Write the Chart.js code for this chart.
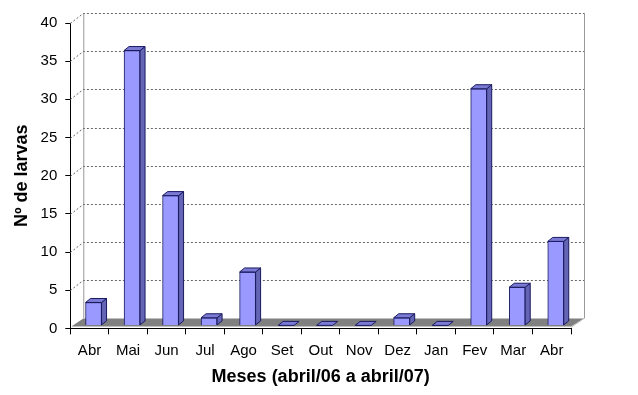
<!DOCTYPE html>
<html>
<head>
<meta charset="utf-8">
<script src="https://cdn.jsdelivr.net/npm/chart.js@4.4.0/dist/chart.umd.min.js"></script>
<style>
  html, body { margin: 0; padding: 0; background: #fff; }
  #wrap { width: 638px; height: 395px; }
</style>
</head>
<body>
<div id="wrap"><canvas id="larvasChart" width="638" height="395"></canvas></div>
<script>
const months = ['Abr', 'Mai', 'Jun', 'Jul', 'Ago', 'Set', 'Out', 'Nov', 'Dez', 'Jan', 'Fev', 'Mar', 'Abr'];
const larvas = [3, 36, 17, 1, 7, 0, 0, 0, 1, 0, 31, 5, 11];
const yTicks = [0, 5, 10, 15, 20, 25, 30, 35, 40];

const FONT = "'Liberation Sans', Arial, sans-serif";
const WALL_DX = 13, WALL_DY = -10;   // depth of the 3d box
const BAR_DX = 5, BAR_DY = -4;       // depth of each column
const SHIFT_X = 4, SHIFT_Y = -3;     // columns stand mid-depth

function poly(ctx, pts, fill, stroke) {
    ctx.beginPath();
    ctx.moveTo(pts[0][0], pts[0][1]);
    for (let i = 1; i < pts.length; i++) ctx.lineTo(pts[i][0], pts[i][1]);
    ctx.closePath();
    if (fill) { ctx.fillStyle = fill; ctx.fill(); }
    if (stroke) { ctx.strokeStyle = stroke; ctx.lineWidth = 1; ctx.stroke(); }
}

// back wall, side wall, floor
const box3d = {
    id: 'box3d',
    beforeDatasetsDraw(chart) {
        const { ctx, chartArea: a, scales: { y } } = chart;
        const top = y.getPixelForValue(40);
        ctx.save();
        // walls edges
        ctx.strokeStyle = '#999';
        ctx.lineWidth = 1;
        ctx.beginPath();
        ctx.moveTo(a.left + WALL_DX + 0.5, top + WALL_DY);
        ctx.lineTo(a.left + WALL_DX + 0.5, a.bottom + WALL_DY);
        ctx.moveTo(a.right + WALL_DX + 0.5, top + WALL_DY);
        ctx.lineTo(a.right + WALL_DX + 0.5, a.bottom + WALL_DY);
        ctx.stroke();
        // grid lines
        ctx.setLineDash([2, 2]);
        ctx.strokeStyle = '#666';
        yTicks.forEach(v => {
            if (v === 0) return;
            const py = Math.round(y.getPixelForValue(v)) + 0.5;
            ctx.beginPath();
            ctx.moveTo(a.left, py);
            ctx.lineTo(a.left + WALL_DX, py + WALL_DY);
            ctx.lineTo(a.right + WALL_DX, py + WALL_DY);
            ctx.stroke();
        });
        ctx.setLineDash([]);
        // floor
        poly(ctx, [[a.left + 1, a.bottom - 2], [a.right, a.bottom - 2], [a.right + WALL_DX, a.bottom + WALL_DY], [a.left + WALL_DX, a.bottom + WALL_DY]], '#808080', null);
        ctx.beginPath();
        ctx.moveTo(a.right, a.bottom - 1);
        ctx.lineTo(a.right + WALL_DX, a.bottom + WALL_DY);
        ctx.strokeStyle = '#b8b8b8';
        ctx.stroke();
        ctx.restore();
        ctx.save();
        ctx.translate(SHIFT_X, SHIFT_Y);
    },
    afterDatasetsDraw(chart) {
        const { ctx } = chart;
        ctx.restore();
        ctx.save();
        ctx.translate(SHIFT_X, SHIFT_Y);
        chart.getDatasetMeta(0).data.forEach(bar => {
            const l = bar.x - bar.width / 2, r = bar.x + bar.width / 2;
            const t = bar.y, b = bar.base;
            // side
            if (b - t > 0.5) {
                poly(ctx, [[r, t], [r + BAR_DX, t + BAR_DY], [r + BAR_DX, b + BAR_DY], [r, b]], '#6565b5', '#1a1a60');
            }
            // top
            poly(ctx, [[l, t], [l + BAR_DX, t + BAR_DY], [r + BAR_DX, t + BAR_DY], [r, t]], '#7b7bd6', '#1a1a60');
        });
        ctx.restore();
    }
};

new Chart(document.getElementById('larvasChart').getContext('2d'), {
    type: 'bar',
    data: {
        labels: months,
        datasets: [{
            label: 'Nº de larvas',
            data: larvas,
            backgroundColor: '#9999ff',
            borderColor: '#1a1a60',
            borderWidth: 1,
            barThickness: 16
        }]
    },
    options: {
        responsive: false,
        animation: false,
        layout: { padding: { top: 23, right: 67, left: 0, bottom: 7 } },
        plugins: { legend: { display: false }, tooltip: { enabled: false } },
        scales: {
            x: {
                grid: { offset: true, drawOnChartArea: false, drawTicks: true, tickLength: 6, color: '#000' },
                border: { display: true, color: '#000' },
                ticks: { color: '#000', font: { family: FONT, size: 15 }, padding: 7, maxRotation: 0 },
                title: { display: true, text: 'Meses (abril/06 a abril/07)', color: '#000', font: { family: FONT, size: 18, weight: 'bold' }, padding: { top: 0, bottom: 0 } }
            },
            y: {
                min: 0, max: 40,
                afterBuildTicks: axis => { axis.ticks = yTicks.map(v => ({ value: v })); },
                grid: { drawOnChartArea: false, drawTicks: true, tickLength: 5, color: '#000' },
                border: { display: true, color: '#000' },
                ticks: { color: '#000', font: { family: FONT, size: 15 }, padding: 8 },
                title: { display: true, text: 'Nº de larvas', color: '#000', font: { family: FONT, size: 18, weight: 'bold' }, padding: { top: 11, bottom: 0 } }
            }
        }
    },
    plugins: [box3d]
});
</script>
</body>
</html>
